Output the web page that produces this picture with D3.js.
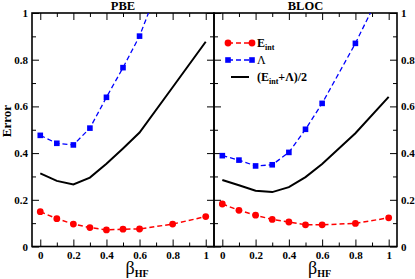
<!DOCTYPE html>
<html><head><meta charset="utf-8">
<script src="https://cdn.jsdelivr.net/npm/d3@7"></script>
<style>
body{margin:0;background:#fff;}
svg{display:block;}
text{font-family:"Liberation Serif","Times New Roman",serif;font-weight:bold;fill:#000;}
</style></head>
<body>
<svg id="chart" width="415" height="279"></svg>
<script>
// ---- data ----
const betas = [0, 0.1, 0.2, 0.3, 0.4, 0.5, 0.6, 0.8, 1.0];
const pbeEint   = [0.149, 0.119, 0.096, 0.081, 0.071, 0.074, 0.075, 0.096, 0.128];
const pbeLambda = [0.476, 0.442, 0.435, 0.507, 0.639, 0.766, 0.901, 1.268, 1.626];
const pbeAvg    = [0.313, 0.281, 0.266, 0.295, 0.354, 0.420, 0.488, 0.682, 0.877];
const blocEint   = [0.182, 0.155, 0.134, 0.116, 0.105, 0.093, 0.093, 0.099, 0.123];
const blocLambda = [0.389, 0.370, 0.345, 0.350, 0.403, 0.502, 0.613, 0.870, 1.160];
const blocAvg    = [0.285, 0.262, 0.239, 0.233, 0.254, 0.297, 0.353, 0.485, 0.641];
const panelTitles = ["PBE", "BLOC"];
const xMajor = [0, 0.2, 0.4, 0.6, 0.8, 1];
const xMinor = [0.1, 0.3, 0.5, 0.7, 0.9];
const yMajor = [0, 0.2, 0.4, 0.6, 0.8, 1];
const yMinor = [0.1, 0.3, 0.5, 0.7, 0.9];
const legendLabels = ["E", "Λ", "(E+Λ)/2"];

const svg = d3.select("#chart");
const yTop = 13, yBottom = 246.5;
const panels = [
  {x0: 32, x1: 214, title: panelTitles[0], eint: pbeEint, lam: pbeLambda, avg: pbeAvg, yLabelSide: "left"},
  {x0: 214, x1: 397, title: panelTitles[1], eint: blocEint, lam: blocLambda, avg: blocAvg, yLabelSide: "right"}
];
const y = d3.scaleLinear().domain([0, 1]).range([yBottom, yTop]);
const fmt = d => d === 0 ? "0" : d === 1 ? "1" : d3.format(".1f")(d);

panels.forEach((p, i) => {
  const x = d3.scaleLinear().domain([-0.05, 1.05]).range([p.x0, p.x1]);
  const g = svg.append("g");
  const clipId = "clip" + i;
  svg.append("clipPath").attr("id", clipId).append("rect")
    .attr("x", p.x0).attr("y", yTop).attr("width", p.x1 - p.x0).attr("height", yBottom - yTop);

  function addAxis(axisFn, scale, vals, size, labels, transform) {
    const a = axisFn(scale).tickValues(vals).tickSizeInner(size).tickSizeOuter(0)
      .tickPadding(0).tickFormat(labels ? fmt : "");
    const ag = g.append("g").attr("transform", transform).call(a);
    ag.select(".domain").remove();
    ag.selectAll(".tick line").attr("stroke", "#000").attr("stroke-width", 1);
    ag.selectAll("text").style("font-size", "11px").style("font-family", "'Liberation Serif',serif")
      .style("font-weight", "bold").attr("fill", "#000");
    return ag;
  }
  const bx = addAxis(d3.axisBottom, x, xMajor, -7, true, `translate(0,${yBottom})`);
  bx.selectAll("text").attr("y", 5).attr("dy", "0.71em");
  addAxis(d3.axisBottom, x, xMinor, -4, false, `translate(0,${yBottom})`);
  addAxis(d3.axisTop, x, xMajor, -7, false, `translate(0,${yTop})`);
  addAxis(d3.axisTop, x, xMinor, -4, false, `translate(0,${yTop})`);
  const lx = addAxis(d3.axisLeft, y, yMajor, -7, p.yLabelSide === "left", `translate(${p.x0},0)`);
  lx.selectAll("text").attr("x", -4);
  addAxis(d3.axisLeft, y, yMinor, -4, false, `translate(${p.x0},0)`);
  const rx = addAxis(d3.axisRight, y, yMajor, -7, p.yLabelSide === "right", `translate(${p.x1},0)`);
  rx.selectAll("text").attr("x", 4);
  addAxis(d3.axisRight, y, yMinor, -4, false, `translate(${p.x1},0)`);

  g.append("rect").attr("x", p.x0).attr("y", yTop).attr("width", p.x1 - p.x0).attr("height", yBottom - yTop)
    .attr("fill", "none").attr("stroke", "#000").attr("stroke-width", 1.6);

  g.append("text").attr("x", (p.x0 + p.x1) / 2).attr("y", 9.5).attr("text-anchor", "middle")
    .style("font-size", "12.5px").text(p.title);

  const xl = g.append("text").attr("x", (p.x0 + p.x1) / 2 + 14).attr("y", 274).attr("text-anchor", "middle");
  xl.append("tspan").style("font-size", "18px").style("font-weight", "normal").text("β");
  xl.append("tspan").attr("dy", 3).style("font-size", "10px").text("HF");

  const plot = g.append("g").attr("clip-path", `url(#${clipId})`);
  const line = d3.line().x((d, j) => x(betas[j])).y(d => y(d));

  plot.append("path").datum(p.avg).attr("d", line).attr("fill", "none").attr("stroke", "#000").attr("stroke-width", 2);
  plot.append("path").datum(p.lam).attr("d", line).attr("fill", "none").attr("stroke", "#0000ff")
    .attr("stroke-width", 1.3).attr("stroke-dasharray", "5,3");
  plot.append("path").datum(p.eint).attr("d", line).attr("fill", "none").attr("stroke", "#ff0000")
    .attr("stroke-width", 1.5).attr("stroke-dasharray", "5,3");

  plot.selectAll(".sq").data(p.lam).enter().append("rect")
    .attr("x", (d, j) => x(betas[j]) - 2.8).attr("y", d => y(d) - 2.8)
    .attr("width", 5.6).attr("height", 5.6).attr("fill", "#0000ff");
  plot.selectAll(".ci").data(p.eint).enter().append("circle")
    .attr("cx", (d, j) => x(betas[j])).attr("cy", d => y(d)).attr("r", 3.4).attr("fill", "#ff0000");
});

svg.append("text").attr("transform", "translate(11,121) rotate(-90)").attr("text-anchor", "middle")
  .style("font-size", "13px").text("Error");

const lg = svg.append("g");
const lx0 = 228, lx1 = 252, ly = [43, 60, 77];
lg.append("line").attr("x1", lx0).attr("x2", lx1).attr("y1", ly[0]).attr("y2", ly[0])
  .attr("stroke", "#ff0000").attr("stroke-width", 1.5).attr("stroke-dasharray", "5,3");
[lx0, lx1].forEach(xx => lg.append("circle").attr("cx", xx).attr("cy", ly[0]).attr("r", 3.4).attr("fill", "#ff0000"));
lg.append("line").attr("x1", lx0).attr("x2", lx1).attr("y1", ly[1]).attr("y2", ly[1])
  .attr("stroke", "#0000ff").attr("stroke-width", 1.3).attr("stroke-dasharray", "5,3");
[lx0, lx1].forEach(xx => lg.append("rect").attr("x", xx - 2.8).attr("y", ly[1] - 2.8).attr("width", 5.6).attr("height", 5.6).attr("fill", "#0000ff"));
lg.append("line").attr("x1", lx0 + 3).attr("x2", lx1 - 3).attr("y1", ly[2]).attr("y2", ly[2])
  .attr("stroke", "#000").attr("stroke-width", 2);

const t1 = lg.append("text").attr("x", 257).attr("y", ly[0] + 4).style("font-size", "12px");
t1.append("tspan").text(legendLabels[0]);
t1.append("tspan").attr("dy", 3).style("font-size", "8px").text("int");
const t2 = lg.append("text").attr("x", 257).attr("y", ly[1] + 4).style("font-size", "12px").style("font-weight", "normal");
t2.text(legendLabels[1]);
const t3 = lg.append("text").attr("x", 257).attr("y", ly[2] + 4).style("font-size", "12px");
t3.append("tspan").text("(E");
t3.append("tspan").attr("dy", 3).style("font-size", "8px").text("int");
t3.append("tspan").attr("dy", -3).text("+Λ)/2");
</script>
</body></html>
